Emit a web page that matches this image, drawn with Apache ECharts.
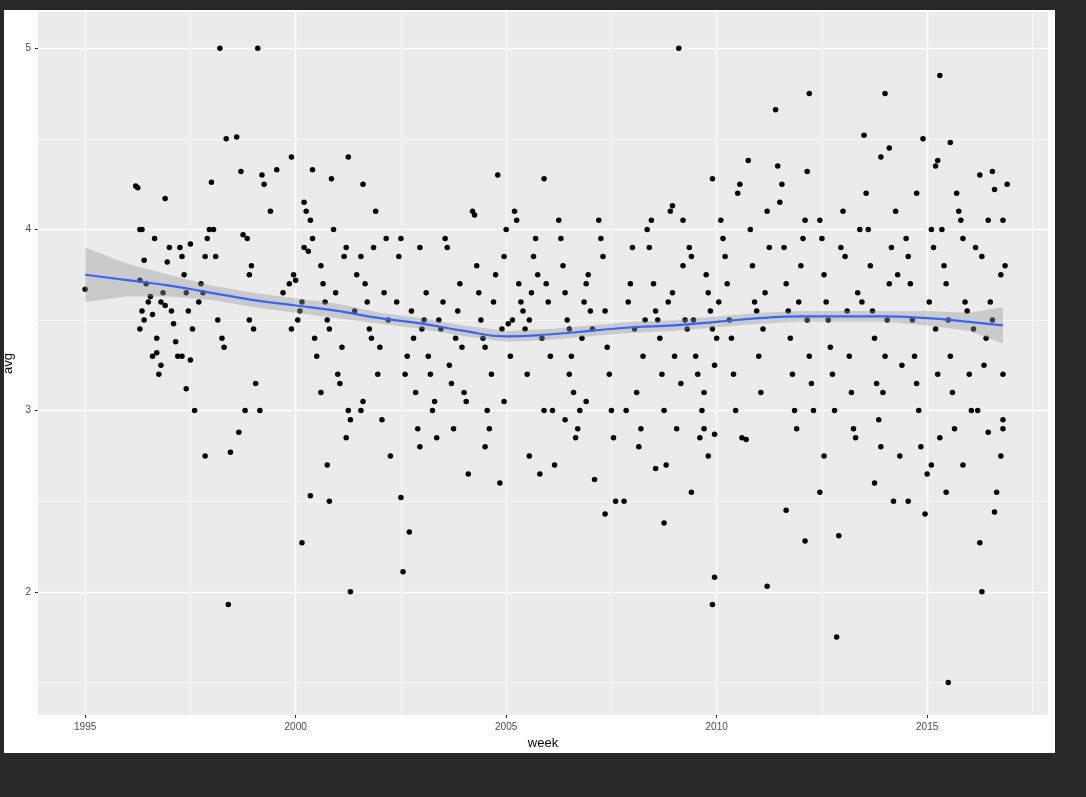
<!DOCTYPE html>
<html>
<head>
<meta charset="utf-8">
<script src="https://cdn.jsdelivr.net/npm/echarts@6/dist/echarts.min.js"></script>
</head>
<body style="margin:0;background:#282828;width:1086px;height:797px;overflow:hidden">
<div style="position:absolute;left:4px;top:10px;width:1051px;height:743px;background:#fff">
  <div id="main" style="width:1051px;height:743px"></div>
</div>
<script>
// scatter points [week, avg]
var points = [
  [1995.0,3.67],
  [1996.2,4.24],[1996.25,4.23],[1996.3,4.0],[1996.35,4.0],[1996.4,3.83],[1996.3,3.72],[1996.35,3.55],[1996.4,3.5],[1996.3,3.45],
  [1996.5,3.6],[1996.55,3.63],[1996.45,3.7],[1996.6,3.3],[1996.7,3.32],[1996.75,3.2],[1996.8,3.25],[1996.7,3.4],[1996.85,3.65],
  [1996.9,3.58],[1996.6,3.53],[1996.65,3.95],[1996.95,3.82],[1996.9,4.17],[1997.0,3.9],[1997.05,3.55],[1996.8,3.6],[1997.1,3.48],[1997.15,3.38],[1997.2,3.3],
  [1997.25,3.9],[1997.3,3.85],[1997.35,3.75],[1997.5,3.92],[1997.4,3.65],[1997.45,3.55],[1997.55,3.45],[1997.3,3.3],[1997.5,3.28],[1997.4,3.12],
  [1997.6,3.0],[1997.7,3.6],[1997.75,3.7],[1997.85,3.85],[1997.9,3.95],[1997.95,4.0],[1997.8,3.65],[1997.85,2.75],[1998.0,4.26],[1998.05,4.0],
  [1998.2,5.0],[1998.1,3.85],[1998.15,3.5],[1998.25,3.4],[1998.3,3.35],[1998.35,4.5],[1998.6,4.51],[1998.4,1.93],[1998.45,2.77],[1998.65,2.88],
  [1998.8,3.0],[1998.75,3.97],[1998.85,3.95],[1998.9,3.75],[1998.7,4.32],[1998.95,3.8],[1998.9,3.5],[1999.0,3.45],[1999.05,3.15],[1999.15,3.0],
  [1999.1,5.0],[1999.2,4.3],[1999.25,4.25],[1999.4,4.1],[1999.55,4.33],[1999.7,3.65],[1999.85,3.7],
  [1999.9,4.4],[1999.95,3.75],[2000.0,3.72],[2000.05,3.5],[1999.9,3.45],[2000.1,3.55],[2000.15,3.6],[2000.2,3.9],[2000.3,3.88],[2000.2,4.15],
  [2000.25,4.1],[2000.35,4.05],[2000.4,3.95],[2000.45,3.4],[2000.5,3.3],[2000.15,2.27],[2000.35,2.53],[2000.4,4.33],
  [2000.6,3.8],[2000.65,3.7],[2000.7,3.6],[2000.75,3.5],[2000.8,3.45],[2000.85,4.28],[2000.9,4.0],[2000.95,3.65],[2001.0,3.2],[2000.6,3.1],
  [2000.75,2.7],[2000.8,2.5],[2001.05,3.15],[2001.1,3.35],[2001.15,3.85],[2001.2,3.9],[2001.25,3.0],[2001.3,2.95],[2001.2,2.85],[2001.25,4.4],
  [2001.3,2.0],[2001.4,3.55],[2001.45,3.75],
  [2001.6,4.25],[2001.55,3.85],[2001.65,3.7],[2001.7,3.6],[2001.75,3.45],[2001.8,3.4],[2001.85,3.9],[2001.9,4.1],[2001.55,3.0],[2001.6,3.05],
  [2001.95,3.2],[2002.0,3.35],[2002.05,2.95],[2002.1,3.65],[2002.15,3.95],[2002.2,3.5],[2002.25,2.75],
  [2002.5,2.52],[2002.55,2.11],[2002.7,2.33],[2002.6,3.2],[2002.65,3.3],[2002.4,3.6],[2002.45,3.85],[2002.5,3.95],[2002.75,3.55],[2002.8,3.4],
  [2002.85,3.1],[2002.9,2.9],[2002.95,2.8],[2003.0,3.45],[2003.05,3.5],[2002.95,3.9],[2003.1,3.65],
  [2003.15,3.3],[2003.2,3.2],[2003.25,3.0],[2003.3,3.05],[2003.35,2.85],[2003.4,3.5],[2003.45,3.45],[2003.5,3.6],[2003.55,3.95],[2003.6,3.9],
  [2003.65,3.25],[2003.7,3.15],[2003.75,2.9],[2003.8,3.4],[2003.85,3.55],[2003.9,3.7],[2003.95,3.35],[2004.0,3.1],[2004.05,3.05],[2004.1,2.65],
  [2004.2,4.1],[2004.25,4.08],[2004.3,3.8],[2004.35,3.65],[2004.4,3.5],[2004.45,3.4],[2004.5,3.35],[2004.55,3.0],[2004.6,2.9],[2004.5,2.8],
  [2004.65,3.2],[2004.7,3.6],[2004.75,3.75],[2004.8,4.3],[2004.85,2.6],[2004.9,3.45],[2004.95,3.85],[2005.0,4.0],[2005.05,3.48],[2005.1,3.3],
  [2004.95,3.05],[2005.15,3.5],
  [2005.2,4.1],[2005.25,4.05],[2005.3,3.7],[2005.35,3.6],[2005.4,3.55],[2005.45,3.45],[2005.5,3.2],[2005.55,3.5],[2005.6,3.65],[2005.65,3.85],
  [2005.7,3.95],[2005.75,3.75],[2005.55,2.75],[2005.8,2.65],[2005.85,3.4],[2005.9,4.28],[2005.95,3.7],[2006.0,3.6],[2006.05,3.3],[2005.9,3.0],
  [2006.1,3.0],[2006.15,2.7],
  [2006.25,4.05],[2006.3,3.95],[2006.35,3.8],[2006.4,3.65],[2006.45,3.5],[2006.5,3.45],[2006.55,3.3],[2006.6,3.1],[2006.65,2.85],[2006.7,2.9],
  [2006.75,3.0],[2006.8,3.4],[2006.85,3.6],[2006.9,3.7],[2006.95,3.75],[2007.0,3.55],[2006.4,2.95],[2006.5,3.2],[2006.9,3.05],[2007.05,3.45],
  [2007.1,2.62],
  [2007.2,4.05],[2007.25,3.95],[2007.3,3.85],[2007.35,3.55],[2007.4,3.35],[2007.45,3.2],[2007.5,3.0],[2007.55,2.85],[2007.6,2.5],[2007.35,2.43],
  [2007.8,2.5],[2007.85,3.0],[2007.9,3.6],[2007.95,3.7],[2008.0,3.9],[2008.05,3.45],[2008.1,3.1],[2008.15,2.8],[2008.2,2.9],[2008.25,3.3],
  [2008.3,3.5],[2008.35,4.0],
  [2008.4,3.9],[2008.45,4.05],[2008.5,3.7],[2008.55,3.55],[2008.6,3.5],[2008.65,3.4],[2008.7,3.2],[2008.75,3.0],[2008.8,2.7],[2008.55,2.68],
  [2008.85,3.6],[2008.9,4.1],[2008.95,3.65],[2009.0,3.3],[2009.05,2.9],[2009.15,3.15],[2009.2,3.8],[2009.25,3.5],[2009.3,3.45],[2008.75,2.38],
  [2008.95,4.13],[2009.2,4.05],
  [2009.1,5.0],[2009.35,3.9],[2009.4,3.85],[2009.45,3.5],[2009.5,3.3],[2009.55,3.2],[2009.6,2.85],[2009.65,3.0],[2009.7,3.1],[2009.75,3.75],
  [2009.8,3.65],[2009.85,3.55],[2009.9,3.45],[2009.4,2.55],[2009.7,2.9],[2009.95,3.25],[2010.0,3.4],[2009.8,2.75],[2009.95,2.87],[2009.9,1.93],
  [2009.95,2.08],[2009.9,4.28],[2010.05,3.6],
  [2010.1,4.05],[2010.15,3.95],[2010.2,3.85],[2010.25,3.7],[2010.3,3.5],[2010.35,3.4],[2010.4,3.2],[2010.45,3.0],[2010.6,2.85],[2010.7,2.84],
  [2010.5,4.2],[2010.55,4.25],[2010.75,4.38],[2010.8,4.0],[2010.85,3.8],[2010.9,3.6],[2010.95,3.55],[2011.0,3.3],[2011.05,3.1],[2011.1,3.45],
  [2011.15,3.65],[2011.2,4.1],[2011.25,3.9],
  [2011.4,4.66],[2011.45,4.35],[2011.5,4.15],[2011.55,4.25],[2011.6,3.9],[2011.65,3.7],[2011.7,3.55],[2011.75,3.4],[2011.8,3.2],[2011.85,3.0],
  [2011.9,2.9],[2011.65,2.45],[2011.2,2.03],[2011.95,3.6],[2012.0,3.8],[2012.05,3.95],[2012.1,4.05],[2012.15,3.5],[2012.2,3.3],[2012.25,3.15],
  [2012.3,3.0],[2012.1,2.28],[2012.2,4.75],[2012.15,4.32],
  [2012.45,4.05],[2012.5,3.95],[2012.55,3.75],[2012.6,3.6],[2012.65,3.5],[2012.7,3.35],[2012.75,3.2],[2012.8,3.0],[2012.55,2.75],[2012.45,2.55],
  [2012.85,1.75],[2012.9,2.31],[2012.95,3.9],[2013.0,4.1],[2013.05,3.85],[2013.1,3.55],[2013.15,3.3],[2013.2,3.1],[2013.25,2.9],[2013.3,2.85],
  [2013.35,3.65],[2013.4,4.0],[2013.45,3.6],
  [2013.5,4.52],[2013.55,4.2],[2013.6,4.0],[2013.65,3.8],[2013.7,3.55],[2013.75,3.4],[2013.8,3.15],[2013.85,2.95],[2013.9,2.8],[2013.75,2.6],
  [2013.95,3.1],[2014.0,3.3],[2014.05,3.5],[2014.1,3.7],[2014.15,3.9],[2013.9,4.4],[2014.0,4.75],[2014.1,4.45],[2014.25,4.1],[2014.3,3.75],
  [2014.2,2.5],[2014.35,2.75],[2014.4,3.25],
  [2014.5,3.95],[2014.55,3.85],[2014.6,3.7],[2014.65,3.5],[2014.7,3.3],[2014.75,3.15],[2014.8,3.0],[2014.85,2.8],[2014.55,2.5],[2014.95,2.43],
  [2015.0,2.65],[2015.05,3.6],[2014.75,4.2],[2014.9,4.5],[2015.1,4.0],[2015.15,3.9],[2015.2,3.45],[2015.25,3.2],[2015.3,2.85],[2015.1,2.7],
  [2015.3,4.85],[2015.25,4.38],[2015.2,4.35],[2015.35,4.0],[2015.4,3.8],[2015.45,3.7],[2015.5,3.5],[2015.55,3.3],[2015.6,3.1],[2015.65,2.9],
  [2015.45,2.55],[2015.5,1.5],[2015.55,4.48],[2015.7,4.2],[2015.75,4.1],[2015.8,4.05],[2015.85,3.95],[2015.9,3.6],[2015.95,3.55],[2016.0,3.2],
  [2016.05,3.0],[2015.85,2.7],[2016.1,3.45],[2016.15,3.9],
  [2016.25,4.3],[2016.55,4.32],[2016.6,4.22],[2016.9,4.25],[2016.45,4.05],[2016.3,3.85],[2016.75,3.75],[2016.5,3.6],[2016.4,3.4],[2016.8,3.2],
  [2016.2,3.0],[2016.45,2.88],[2016.75,2.75],[2016.65,2.55],[2016.6,2.44],[2016.25,2.27],[2016.3,2.0],[2016.8,2.95],[2016.55,3.5],[2016.85,3.8],
  [2016.8,4.05],[2016.35,3.25],[2016.8,2.9]
];

// loess fit and its confidence band
var smoothWeek = [1995.0, 1996, 1997, 1998, 1999, 2000, 2001, 2002, 2003, 2004, 2005, 2006, 2007, 2008, 2009, 2010, 2011, 2012, 2013, 2014, 2015, 2016, 2016.8];
var smoothAvg  = [3.75, 3.72, 3.69, 3.65, 3.61, 3.58, 3.55, 3.51, 3.48, 3.44, 3.41, 3.42, 3.44, 3.46, 3.47, 3.49, 3.51, 3.52, 3.52, 3.52, 3.51, 3.49, 3.47];
var bandLow    = [3.60, 3.63, 3.63, 3.61, 3.57, 3.54, 3.51, 3.48, 3.45, 3.41, 3.38, 3.39, 3.41, 3.43, 3.44, 3.46, 3.48, 3.49, 3.49, 3.49, 3.47, 3.44, 3.37];
var bandHigh   = [3.90, 3.81, 3.75, 3.69, 3.65, 3.62, 3.59, 3.54, 3.51, 3.47, 3.44, 3.45, 3.47, 3.49, 3.50, 3.52, 3.54, 3.55, 3.55, 3.55, 3.55, 3.54, 3.57];

// axis breaks
var xTicks = [1995, 2000, 2005, 2010, 2015];
var xMinor = [1997.5, 2002.5, 2007.5, 2012.5, 2017.5];
var yTicks = [2, 3, 4, 5];
var yMinor = [1.5, 2.5, 3.5, 4.5];

var linePairs = smoothWeek.map(function (w, i) { return [w, smoothAvg[i]]; });

function gridLines(vals, dim, width) {
    return vals.map(function (v) {
        var o = {}; o[dim] = v; o.lineStyle = { color: '#fff', width: width, type: 'solid' };
        return o;
    });
}

var chart = echarts.init(document.getElementById('main'));
var tickLabel = { color: '#4d4d4d', fontSize: 10, fontFamily: 'Liberation Sans', margin: 7,
                  formatter: function (v) { return String(v); } };
chart.setOption({
    animation: false,
    grid: { left: 34, right: 7, top: 2, bottom: 38, show: true, backgroundColor: '#ebebeb', borderWidth: 0,
            containLabel: false, outerBoundsMode: 'none' },
    xAxis: {
        type: 'value', min: 1993.88, max: 2017.87,
        name: 'week', nameLocation: 'middle', nameGap: 21,
        nameTextStyle: { color: '#000', fontSize: 13, fontFamily: 'Liberation Sans' },
        axisLine: { show: false },
        axisTick: { show: true, length: 3, customValues: xTicks, lineStyle: { color: '#333' } },
        axisLabel: Object.assign({ customValues: xTicks }, tickLabel),
        splitLine: { show: false }
    },
    yAxis: {
        type: 'value', min: 1.32, max: 5.2,
        name: 'avg', nameLocation: 'middle', nameGap: 16,
        nameTextStyle: { color: '#000', fontSize: 13, fontFamily: 'Liberation Sans' },
        axisLine: { show: false },
        axisTick: { show: true, length: 3, customValues: yTicks, lineStyle: { color: '#333' } },
        axisLabel: Object.assign({ customValues: yTicks }, tickLabel),
        splitLine: { show: false }
    },
    series: [
        { type: 'line', data: [], silent: true, z: 1,
          markLine: { silent: true, symbol: 'none', label: { show: false }, animation: false,
              data: gridLines(xMinor, 'xAxis', 0.6).concat(gridLines(yMinor, 'yAxis', 0.6))
                  .concat(gridLines(xTicks, 'xAxis', 1.3)).concat(gridLines(yTicks, 'yAxis', 1.3)) } },
        { type: 'scatter', data: points, symbolSize: 5.5, zlevel: 1, itemStyle: { color: '#000', opacity: 1 }, z: 2 },
        { type: 'custom', zlevel: 1, z: 3, silent: true, data: [0],
          renderItem: function (params, api) {
              var pts = [];
              for (var i = 0; i < smoothWeek.length; i++) pts.push(api.coord([smoothWeek[i], bandHigh[i]]));
              for (var j = smoothWeek.length - 1; j >= 0; j--) pts.push(api.coord([smoothWeek[j], bandLow[j]]));
              return { type: 'polygon', shape: { points: pts },
                       style: { fill: 'rgba(153,153,153,0.4)' } };
          } },
        { type: 'line', data: linePairs, symbol: 'none', smooth: true, zlevel: 1,
          lineStyle: { color: '#3366ff', width: 2.2 }, z: 4 }
    ]
});
</script>
</body>
</html>
